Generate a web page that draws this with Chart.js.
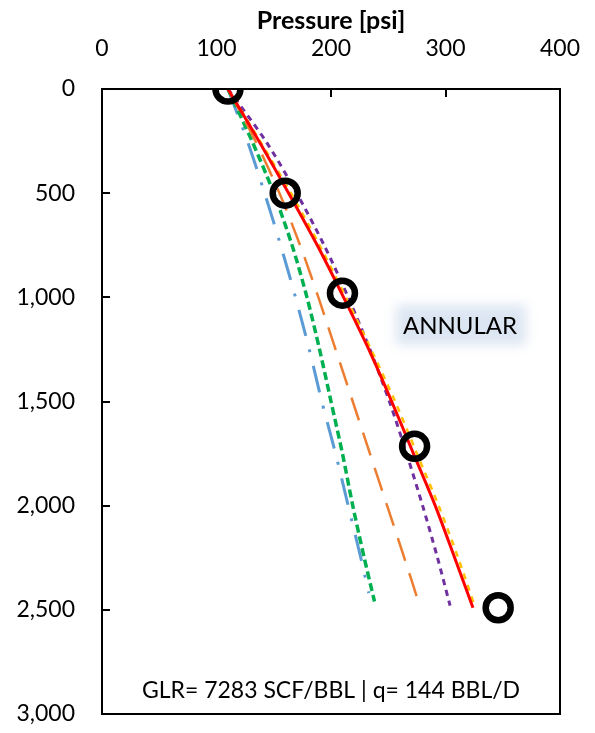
<!DOCTYPE html>
<html>
<head>
<meta charset="utf-8">
<script src="https://cdn.jsdelivr.net/npm/chart.js@4.4.1/dist/chart.umd.min.js"></script>
<style>
  html, body { margin: 0; padding: 0; background: #fff; }
  #wrap { width: 595px; height: 733px; }
</style>
</head>
<body>
<div id="wrap"><canvas id="chart" width="595" height="733"></canvas></div>
<script>
// depth stations (ft) shared by every model curve, last point is per curve
const depthFt = [0, 250, 500, 750, 1000, 1250, 1500, 1750, 2000, 2250];
const endDepth = { blue: 2420, green: 2460, orange: 2490, purple: 2480, yellow: 2490, red: 2490 };

// pressure (psi) of each model curve at the depths above
const bluePsi   = [110, 127, 142, 156, 169, 181, 192, 204, 215, 226, 233];
const greenPsi  = [110, 131, 150, 166, 179, 190, 200, 210, 219, 229, 238];
const orangePsi = [110, 134, 155, 173, 189, 204, 219, 234, 249, 264, 278];
const purplePsi = [110, 143, 170, 194, 215, 234, 251, 266, 280, 293, 304];
const yellowPsi = [110, 138, 165, 190, 213, 235, 256, 275, 294, 311, 326];
const redPsi    = [110, 137, 163, 188, 211, 233, 253, 272, 291, 308, 324];

// measured gauge points
const measPsi   = [110, 160, 210, 273, 346];
const measDepth = [0, 500, 980, 1715, 2490];

const xTicks = [0, 100, 200, 300, 400];
const yTicks = [0, 500, 1000, 1500, 2000, 2500, 3000];

const FONT = 'Lato, "Open Sans", sans-serif';

function curve(psi, end) {
  const depths = depthFt.concat([end]);
  return psi.map((p, i) => ({ x: p, y: depths[i] }));
}

function lineSet(psi, end, color, width, dash, order) {
  return {
    data: curve(psi, end),
    borderColor: color,
    borderWidth: width,
    borderDash: dash,
    showLine: true,
    pointRadius: 0,
    tension: 0.3,
    fill: false,
    order: order
  };
}

// no extra room for half labels at the ends of the axes
function noPad(s) {
  s.paddingLeft = 0; s.paddingRight = 0; s.paddingTop = 0; s.paddingBottom = 0;
}

// frame, inward ticks and the two text boxes
const framePlugin = {
  id: 'frame',
  beforeDatasetsDraw(chart) {
    const { ctx, chartArea: a } = chart;
    ctx.save();
    ctx.filter = 'blur(6px)';
    ctx.fillStyle = '#DCE6F2';
    ctx.fillRect(a.left + 294, a.top + 216, 130, 40);
    ctx.restore();
  },
  afterDraw(chart) {
    const { ctx, chartArea: a, scales } = chart;
    ctx.save();
    ctx.strokeStyle = '#000';
    ctx.lineWidth = 2;
    ctx.strokeRect(a.left, a.top, a.right - a.left, a.bottom - a.top);
    ctx.beginPath();
    xTicks.forEach(v => {
      const px = Math.round(scales.x.getPixelForValue(v));
      ctx.moveTo(px, a.top);
      ctx.lineTo(px, a.top + 8);
    });
    yTicks.forEach(v => {
      const py = Math.round(scales.y.getPixelForValue(v));
      ctx.moveTo(a.left, py);
      ctx.lineTo(a.left + 8, py);
    });
    ctx.stroke();

    ctx.fillStyle = '#000';
    ctx.textAlign = 'center';
    ctx.textBaseline = 'middle';
    ctx.font = '24px ' + FONT;
    ctx.fillText('ANNULAR', a.left + 358, a.top + 237);
    ctx.font = '23px ' + FONT;
    ctx.fillText('GLR= 7283 SCF/BBL | q= 144 BBL/D', (a.left + a.right) / 2, a.top + 602);
    ctx.restore();
  }
};

new Chart(document.getElementById('chart'), {
  type: 'scatter',
  data: {
    datasets: [
      lineSet(bluePsi, endDepth.blue, '#5B9BD5', 3, [27, 14, 3, 14], 6),
      lineSet(greenPsi, endDepth.green, '#00B050', 3.5, [8, 4], 5),
      lineSet(orangePsi, endDepth.orange, '#ED7D31', 2.5, [24, 13], 4),
      lineSet(purplePsi, endDepth.purple, '#7030A0', 3, [6, 5], 3),
      lineSet(yellowPsi, endDepth.yellow, '#FFC000', 2.5, [6, 6], 2),
      lineSet(redPsi, endDepth.red, '#FF0000', 3, [], 1),
      {
        data: measPsi.map((p, i) => ({ x: p, y: measDepth[i] })),
        showLine: false,
        pointRadius: 12.5,
        pointHoverRadius: 12.5,
        pointBorderWidth: 6.5,
        pointBorderColor: '#000',
        pointBackgroundColor: 'rgba(0,0,0,0)',
        order: 0
      }
    ]
  },
  options: {
    responsive: false,
    animation: false,
    layout: { padding: { left: 0, right: 35, top: 0, bottom: 17 } },
    plugins: { legend: { display: false }, tooltip: { enabled: false } },
    scales: {
      x: {
        type: 'linear', position: 'top', min: 0, max: 400,
        afterBuildTicks: s => { s.ticks = xTicks.map(v => ({ value: v })); },
        afterFit: s => { s.height = 89; noPad(s); },
        grid: { display: false, drawTicks: false },
        border: { display: false },
        ticks: { color: '#000', padding: 27, font: { family: FONT, size: 23 } },
        title: { display: true, text: 'Pressure [psi]', color: '#000', padding: { top: 6, bottom: 0 },
                 font: { family: FONT, size: 25, weight: 'bold' } }
      },
      y: {
        type: 'linear', reverse: true, min: 0, max: 3000,
        afterBuildTicks: s => { s.ticks = yTicks.map(v => ({ value: v })); },
        afterFit: s => { s.width = 102; noPad(s); },
        grid: { display: false, drawTicks: false },
        border: { display: false },
        ticks: { color: '#000', padding: 27, font: { family: FONT, size: 23 } }
      }
    }
  },
  plugins: [framePlugin]
});
</script>
</body>
</html>
